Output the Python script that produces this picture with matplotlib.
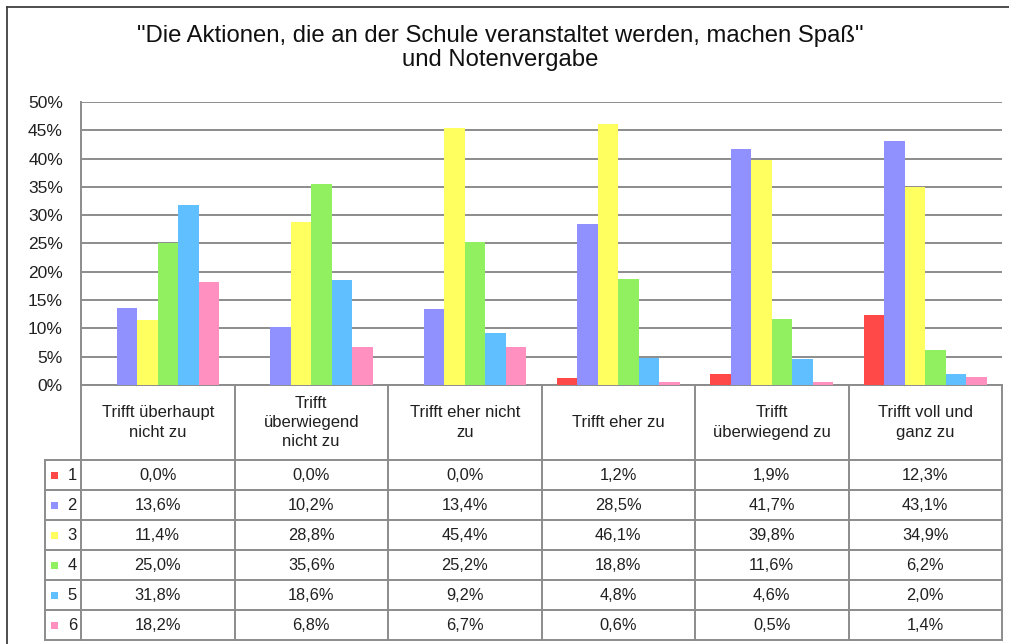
import matplotlib
matplotlib.use("Agg")
import matplotlib.pyplot as plt
from matplotlib.lines import Line2D
from matplotlib.patches import Rectangle
import numpy as np

plt.rcParams['font.family'] = ['Liberation Sans', 'DejaVu Sans']

title = '"Die Aktionen, die an der Schule veranstaltet werden, machen Spaß"\nund Notenvergabe'
categories = [
    "Trifft überhaupt\nnicht zu",
    "Trifft\nüberwiegend\nnicht zu",
    "Trifft eher nicht\nzu",
    "Trifft eher zu",
    "Trifft\nüberwiegend zu",
    "Trifft voll und\nganz zu",
]
grades = ["1", "2", "3", "4", "5", "6"]
note_1 = [0.0, 0.0, 0.0, 1.2, 1.9, 12.3]
note_2 = [13.6, 10.2, 13.4, 28.5, 41.7, 43.1]
note_3 = [11.4, 28.8, 45.4, 46.1, 39.8, 34.9]
note_4 = [25.0, 35.6, 25.2, 18.8, 11.6, 6.2]
note_5 = [31.8, 18.6, 9.2, 4.8, 4.6, 2.0]
note_6 = [18.2, 6.8, 6.7, 0.6, 0.5, 1.4]
series = [note_1, note_2, note_3, note_4, note_5, note_6]
colors = ["#FF4848", "#9090FF", "#FFFF60", "#90F060", "#60C0FF", "#FF90C0"]
y_ticks = [0, 5, 10, 15, 20, 25, 30, 35, 40, 45, 50]

W, H = 1009, 644
fig = plt.figure(figsize=(W / 100, H / 100), dpi=100)
fig.patch.set_facecolor("white")

# plot area in pixel units
px_left, px_right, px_top, px_bottom = 81, 1002, 102, 385
ax = fig.add_axes([px_left / W, 1 - px_bottom / H,
                   (px_right - px_left) / W, (px_bottom - px_top) / H])
ax.set_xlim(0, len(categories))
ax.set_ylim(0, 50)

n = len(series)
gap = 1.5  # gap width relative to bar width
bar_w = 1.0 / (n + gap)
x = np.arange(len(categories))
for i, (vals, col) in enumerate(zip(series, colors)):
    pos = x + (gap / 2) * bar_w + (i + 0.5) * bar_w
    ax.bar(pos, vals, width=bar_w, color=col, edgecolor="none", zorder=3)

ax.set_yticks(y_ticks)
ax.set_yticklabels([f"{t}%" for t in y_ticks], fontsize=12.5, color="#202020")
ax.tick_params(axis="y", length=0, pad=13)
ax.set_xticks([])
ax.yaxis.grid(True, color="#8C8C8C", linewidth=1.4, zorder=0)
for side in ["top", "right"]:
    ax.spines[side].set_visible(False)
ax.spines["left"].set_color("#8C8C8C")
ax.spines["left"].set_linewidth(1.4)
ax.spines["bottom"].set_color("#8C8C8C")
ax.spines["bottom"].set_linewidth(1.4)

# overlay axes in pixel coordinates for the frame, title and data table
ov2 = fig.add_axes([0, 0, 1, 1])
ov2.set_xlim(0, W)
ov2.set_ylim(H, 0)
ov2.axis("off")
ov2.patch.set_alpha(0)

line_kw = dict(color="#8C8C8C", linewidth=1.4)
# chart frame
ov2.add_line(Line2D([7, 7], [7, H + 5], color="#404040", linewidth=1.3))
ov2.add_line(Line2D([7, W + 5], [7, 7], color="#404040", linewidth=1.3))

ov2.text(500, 48, title, ha="center", va="center",
         fontsize=17.2, color="#101010", linespacing=1.1)

# data table
cat_w = (px_right - px_left) / len(categories)
header_bottom = 460
row_h = 30
legend_left = 45
table_bottom = header_bottom + row_h * len(grades)
for k in range(len(categories) + 1):
    xb = px_left + k * cat_w
    ov2.add_line(Line2D([xb, xb], [px_bottom, table_bottom], **line_kw))
ov2.add_line(Line2D([legend_left, legend_left], [header_bottom, table_bottom], **line_kw))
for r in range(len(grades) + 1):
    yy = header_bottom + r * row_h
    ov2.add_line(Line2D([legend_left, px_right], [yy, yy], **line_kw))

for k, cat in enumerate(categories):
    xc = px_left + (k + 0.5) * cat_w
    ov2.text(xc, (px_bottom + header_bottom) / 2, cat, ha="center", va="center",
             fontsize=12, color="#202020", linespacing=1.35)

for r, (g, vals, col) in enumerate(zip(grades, series, colors)):
    yc = header_bottom + (r + 0.5) * row_h
    ov2.add_patch(Rectangle((51, yc - 3.5), 7, 7, facecolor=col, edgecolor="none"))
    ov2.text(77, yc, g, ha="right", va="center", fontsize=12, color="#202020")
    for k, v in enumerate(vals):
        xc = px_left + (k + 0.5) * cat_w
        ov2.text(xc, yc, f"{v:.1f}%".replace(".", ","), ha="center", va="center",
                 fontsize=11.8, color="#202020")

fig.savefig("out.png", dpi=100)
